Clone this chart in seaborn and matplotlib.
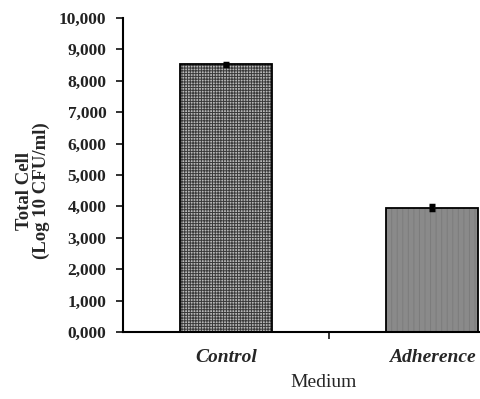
import matplotlib
matplotlib.use('Agg')
import matplotlib.pyplot as plt
import matplotlib.colors as mcolors
import seaborn as sns
from matplotlib.ticker import FuncFormatter

# data
categories = ['Control', 'Adherence']
values = [8.52, 3.96]
errors = [0.06, 0.07]
bar_colors = ['#b8b8b8', '#8a8a8a']
hatches = ['++++++', '|||']
hatch_colors = ['#3a3a3a', '#7c7c7c']

sns.set_style('white')
plt.rcParams['font.family'] = ['Liberation Serif', 'DejaVu Serif']
plt.rcParams['hatch.linewidth'] = 0.7

fig = plt.figure(figsize=(4.81, 3.99), dpi=100)
ax = fig.add_axes([0.2557, 0.168, 0.7443, 0.787])

sns.barplot(x=categories, y=values, hue=categories, palette=bar_colors,
            width=0.45, edgecolor='black', linewidth=1.3, errorbar=None,
            legend=False, ax=ax)

# hatch pattern in its own colour, outline stays black
for patch, h, hc in zip(ax.patches, hatches, hatch_colors):
    patch.set_hatch(h)
    patch._hatch_color = mcolors.to_rgba(hc)

ax.errorbar(x=range(len(categories)), y=values, yerr=errors, fmt='none',
            ecolor='black', elinewidth=3, capsize=2.5, capthick=2.5)

ax.set_ylim(0, 10)
ax.set_xlim(-0.5, 1.238)
ax.set_yticks(list(range(0, 11)))
ax.yaxis.set_major_formatter(FuncFormatter(lambda v, p: f'{v:.3f}'.replace('.', ',')))
ax.tick_params(axis='y', direction='out', length=5, width=1.3, left=True,
               labelsize=12.5, colors='#222222', pad=7)
for lab in ax.get_yticklabels():
    lab.set_fontweight('bold')

ax.set_xticks([0, 1])
ax.set_xticklabels(categories, fontsize=14, fontweight='bold', style='italic')
ax.tick_params(axis='x', length=0, pad=12)
ax.set_xticks([0.5], minor=True)
ax.tick_params(axis='x', which='minor', direction='out', length=5, width=1.3, bottom=True)

sns.despine(ax=ax)
for side in ['left', 'bottom']:
    ax.spines[side].set_linewidth(1.5)
    ax.spines[side].set_color('black')

ax.set_xlabel('Medium', fontsize=14)
ax.xaxis.set_label_coords(0.56, -0.135)
ax.set_ylabel('Total Cell\n(Log 10 CFU/ml)', fontsize=13.5, fontweight='bold', linespacing=1.0)
ax.yaxis.set_label_coords(-0.204, 0.449)

fig.savefig('out.png', dpi=100)
